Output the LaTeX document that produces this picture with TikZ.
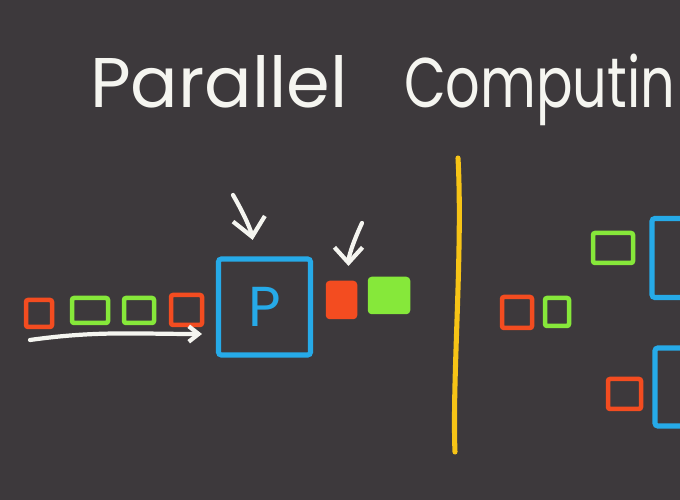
\documentclass[tikz,border=0pt]{standalone}
\usepackage{fontspec}
\usepackage{graphicx}
\setmainfont{Poppins}
\usetikzlibrary{arrows.meta}
\definecolor{board}{RGB}{61,57,60}
\definecolor{chalkwhite}{RGB}{245,245,240}
\definecolor{chalkred}{RGB}{243,76,32}
\definecolor{chalkgreen}{RGB}{134,232,58}
\definecolor{chalkblue}{RGB}{38,170,232}
\definecolor{chalkyellow}{RGB}{247,196,22}
\newcommand\pxu{0.025cm}
\tikzset{
  cellsize/.style 2 args={minimum width=#1*\pxu, minimum height=#2*\pxu},
  cell/.style={draw, line width=3.2pt, rounded corners=1.5pt, inner sep=0pt},
  redcell/.style={cell, draw=chalkred},
  greencell/.style={cell, draw=chalkgreen},
  proc/.style={draw=chalkblue, line width=3.6pt, rounded corners=2pt, inner sep=0pt},
  hand/.style={draw=chalkwhite, line width=3pt, line cap=round, line join=round},
}

\begin{document}
\begin{tikzpicture}[x=0.025cm, y=0.025cm]
  \useasboundingbox (0,0) rectangle (680,500);
  \fill[board] (0,0) rectangle (680,500);
  \clip (0,0) rectangle (680,500);

  \node[anchor=base west, text=chalkwhite, font=\fontsize{50}{50}\selectfont, inner sep=0pt]
    (title) at (90,392) {Parallel\hspace{0.8em}\scalebox{0.77}[1]{Computin}};

  % one processor, tasks in a queue
  \node[redcell, cellsize={26}{27}] (q1) at (39,186.5) {};
  \node[greencell, cellsize={36}{25}] (q2) at (90,189.5) {};
  \node[greencell, cellsize={30}{25}] (q3) at (139,189.5) {};
  \node[redcell, cellsize={31}{30}] (q4) at (186.5,190) {};
  \node[proc, cellsize={92}{96}, text=chalkblue, font=\fontsize{40}{40}\selectfont] (proc) at (264.5,193) {P};
  \node[cell, draw=chalkred, fill=chalkred, cellsize={27}{34}] (done1) at (341.5,200) {};
  \node[cell, draw=chalkgreen, fill=chalkgreen, cellsize={38}{33}] (done2) at (389,204.5) {};

  \coordinate (qs) at (30,160);
  \coordinate (qe) at (202,166);
  \draw[hand, -{Straight Barb[length=7pt, width=11pt]}] (qs) to[out=8, in=180] (qe);
  \coordinate (toproc) at (233,305);
  \draw[hand, -{Straight Barb[length=13pt, width=23pt]}, shorten >=0.42cm] (toproc) to[out=-60, in=100] (proc.100);
  \coordinate (todone) at (362,277);
  \draw[hand, -{Straight Barb[length=11pt, width=20pt]}, shorten >=0.37cm] (todone) to[out=-115, in=90] (done1.70);

  % divider
  \draw[chalkyellow, line width=3.6pt, line cap=round] (458,342) .. controls (463,250) and (452,120) .. (455,48);

  % several processors
  \node[redcell, cellsize={30}{31}] (m1) at (517,187.5) {};
  \node[greencell, cellsize={24}{28}] (m2) at (557,188) {};
  \node[greencell, cellsize={40}{30}] (u1) at (613,252) {};
  \node[proc, cellsize={80}{79}] (procA) at (692,242) {};
  \node[redcell, cellsize={33}{30}] (l1) at (624.5,106) {};
  \node[proc, cellsize={80}{78}] (procB) at (695,113) {};
\end{tikzpicture}
\end{document}
